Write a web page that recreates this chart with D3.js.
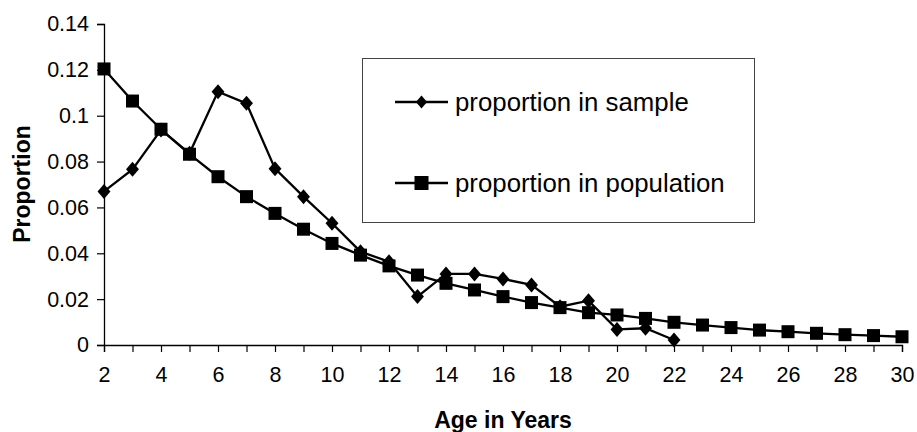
<!DOCTYPE html>
<html>
<head>
<meta charset="utf-8">
<script src="https://cdn.jsdelivr.net/npm/d3@7"></script>
<style>
  html, body { margin: 0; padding: 0; background: #fff; }
  svg { display: block; font-family: "Liberation Sans", Arial, sans-serif; }
</style>
</head>
<body>
<svg id="chart" width="917" height="432"></svg>
<script>
const ages = [2,3,4,5,6,7,8,9,10,11,12,13,14,15,16,17,18,19,20,21,22,23,24,25,26,27,28,29,30];
const sampleAges = [2,3,4,5,6,7,8,9,10,11,12,13,14,15,16,17,18,19,20,21,22];
const sampleValues = [0.067,0.0766,0.0938,0.0836,0.1105,0.1054,0.0769,0.0647,0.0531,0.0407,0.0363,0.0211,0.031,0.031,0.0288,0.0262,0.0167,0.0193,0.0068,0.0073,0.0022];
const populationValues = [0.1204,0.1064,0.0941,0.0832,0.0734,0.0647,0.0574,0.0505,0.0443,0.0392,0.0345,0.0305,0.0269,0.024,0.0211,0.0185,0.0163,0.0141,0.0131,0.0116,0.0099,0.0087,0.0076,0.0065,0.0058,0.0051,0.0045,0.0041,0.0036];
const yTicks = [0,0.02,0.04,0.06,0.08,0.1,0.12,0.14];
const xTickLabels = [2,4,6,8,10,12,14,16,18,20,22,24,26,28,30];
const seriesNames = ["proportion in sample", "proportion in population"];
const xTitle = "Age in Years";
const yTitle = "Proportion";

const svg = d3.select("#chart");
const x = d3.scaleLinear().domain([2, 30]).range([104, 902]);
const y = d3.scaleLinear().domain([0, 0.14]).range([345, 24]);

// Y axis
const yAxis = svg.append("g").attr("transform", "translate(104,0)")
  .call(d3.axisLeft(y).tickValues(yTicks).tickSize(7).tickPadding(8)
        .tickFormat(d => String(+d.toFixed(2))));
yAxis.select(".domain").attr("stroke", "#000").attr("stroke-width", 1.3);
yAxis.selectAll(".tick line").attr("stroke", "#000").attr("stroke-width", 1.2);
yAxis.selectAll("text").attr("font-size", 21.5).attr("fill", "#000")
  .attr("font-family", "'Liberation Sans', Arial, sans-serif");

// X axis
const xAxis = svg.append("g").attr("transform", "translate(0,345)")
  .call(d3.axisBottom(x).tickValues(ages).tickSize(7).tickPadding(15)
        .tickFormat(d => xTickLabels.includes(d) ? String(d) : ""));
xAxis.select(".domain").attr("stroke", "#000").attr("stroke-width", 1.3);
xAxis.selectAll(".tick line").attr("stroke", "#000").attr("stroke-width", 1.2);
xAxis.selectAll("text").attr("font-size", 21.5).attr("fill", "#000")
  .attr("font-family", "'Liberation Sans', Arial, sans-serif");

// Axis titles
svg.append("text").attr("x", 503).attr("y", 428).attr("text-anchor", "middle")
  .attr("font-size", 23).attr("font-weight", "bold").text(xTitle);
svg.append("text").attr("transform", "translate(30,184) rotate(-90)")
  .attr("text-anchor", "middle").attr("font-size", 23).attr("font-weight", "bold").text(yTitle);

const line = d3.line().x(d => x(d[0])).y(d => y(d[1]));
const sampleData = sampleAges.map((a, i) => [a, sampleValues[i]]);
const popData = ages.map((a, i) => [a, populationValues[i]]);

const diamond = s => `M0,${-s}L${s*0.86},0L0,${s}L${-s*0.86},0Z`;

// Population series
svg.append("path").datum(popData).attr("d", line)
  .attr("fill", "none").attr("stroke", "#000").attr("stroke-width", 2.3);
svg.append("g").selectAll("rect").data(popData).join("rect")
  .attr("x", d => x(d[0]) - 6.5).attr("y", d => y(d[1]) - 6.5)
  .attr("width", 13).attr("height", 13).attr("fill", "#000");

// Sample series
svg.append("path").datum(sampleData).attr("d", line)
  .attr("fill", "none").attr("stroke", "#000").attr("stroke-width", 2.3);
svg.append("g").selectAll("path").data(sampleData).join("path")
  .attr("transform", d => `translate(${x(d[0])},${y(d[1])})`)
  .attr("d", diamond(7.5)).attr("fill", "#000");

// Legend
const lg = svg.append("g");
lg.append("rect").attr("x", 362.5).attr("y", 58.5).attr("width", 392).attr("height", 164)
  .attr("fill", "#fff").attr("stroke", "#444").attr("stroke-width", 1);
const rows = [102, 183];
seriesNames.forEach((name, i) => {
  const ry = rows[i];
  lg.append("line").attr("x1", 395).attr("x2", 448).attr("y1", ry).attr("y2", ry)
    .attr("stroke", "#000").attr("stroke-width", 2.3);
  if (i === 0) {
    lg.append("path").attr("transform", `translate(421.5,${ry})`).attr("d", diamond(6.5)).attr("fill", "#000");
  } else {
    lg.append("rect").attr("x", 421.5 - 7).attr("y", ry - 7).attr("width", 14).attr("height", 14).attr("fill", "#000");
  }
  lg.append("text").attr("x", 455).attr("y", ry + 8.5).attr("font-size", 25.8).attr("fill", "#000").text(name);
});
</script>
</body>
</html>
